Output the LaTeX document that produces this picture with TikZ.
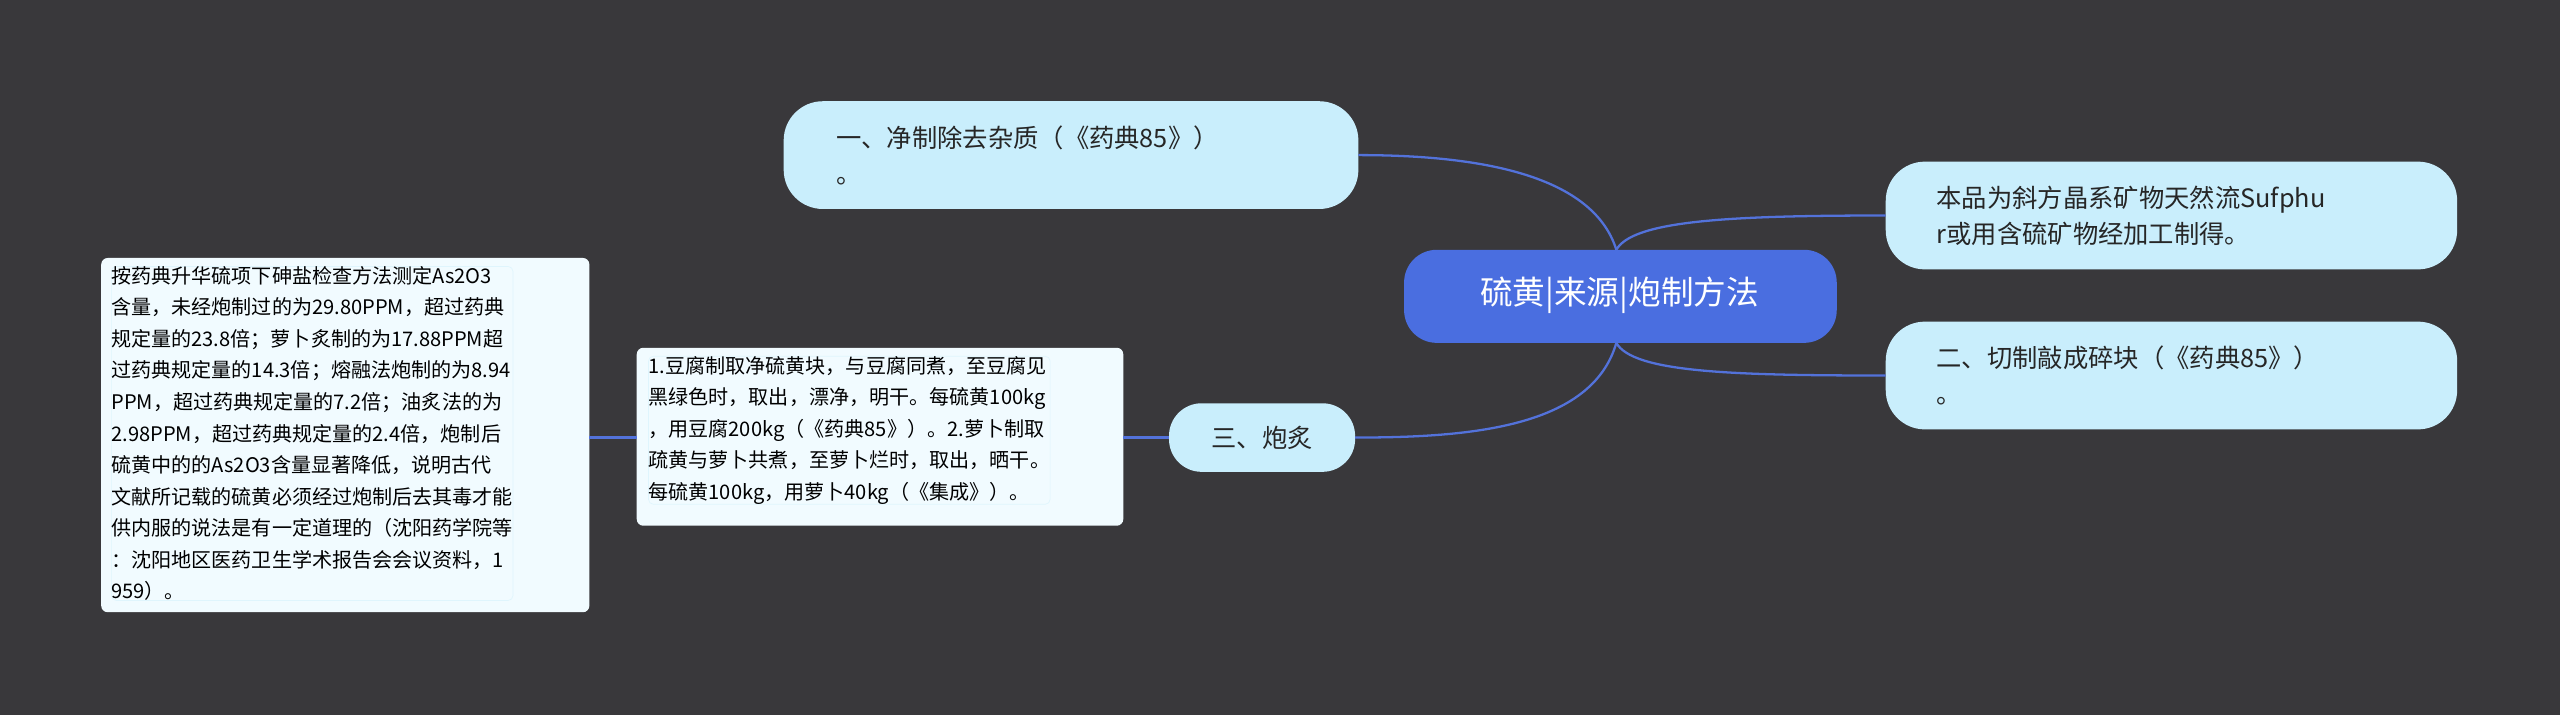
\documentclass[tikz,border=0pt]{standalone}
\usepackage{fontspec}
\setmainfont{Noto Sans CJK SC}
\begin{document}
\begin{tikzpicture}[x=1pt,y=-1pt]
\definecolor{bg}{HTML}{39383B}
\definecolor{cen}{HTML}{4A6EE0}
\definecolor{lt}{HTML}{C9EEFC}
\definecolor{dt}{HTML}{F1FBFF}
\definecolor{ln}{HTML}{5372DA}
\tikzset{
 main/.style={fill=lt,rounded corners=22pt,font=\fontsize{15.5}{22}\selectfont,align=left,text=black!85,inner sep=0pt},
 det/.style={fill=dt,draw=lt!60!white,rounded corners=3pt,font=\fontsize{12.3}{19.3}\selectfont,align=left,inner sep=0pt},
 con/.style={draw=ln,line width=1.4pt}
}
\fill[bg] (0,0) rectangle (1568,438);
\useasboundingbox (0,0) rectangle (1568,438);
\fill[cen,rounded corners=20pt] (860,153) rectangle (1125,210);
\node[text=white,font=\fontsize{20}{24}\selectfont] (c) at (992,181) {硫黄|来源|炮制方法};
\coordinate (ct) at (990,153);
\coordinate (cb) at (990,210);
\fill[lt,rounded corners=24pt] (480,62) rectangle (832,128);
\node[main,anchor=west] (a) at (512,95) {一、净制除去杂质（《药典85》）\\。};
\coordinate (ar) at (832,95);
\fill[lt,rounded corners=24pt] (1155,99) rectangle (1505,165);
\node[main,anchor=west] (r1) at (1186,132) {本品为斜方晶系矿物天然流Sufphu\\r或用含硫矿物经加工制得。};
\coordinate (r1l) at (1155,132);
\fill[lt,rounded corners=24pt] (1155,197) rectangle (1505,263);
\node[main,anchor=west] (r2) at (1186,230) {二、切制敲成碎块（《药典85》）\\。};
\coordinate (r2l) at (1155,230);
\fill[lt,rounded corners=20pt] (716,247) rectangle (830,289);
\node[main] (p) at (773,268) {三、炮炙};
\coordinate (pl) at (716,268);
\coordinate (pr) at (830,268);
\fill[dt,rounded corners=4pt] (390,213) rectangle (688,322);
\node[det,anchor=north west] (d1) at (397,218) {1.豆腐制取净硫黄块，与豆腐同煮，至豆腐见\\黑绿色时，取出，漂净，明干。每硫黄100kg\\，用豆腐200kg（《药典85》）。2.萝卜制取\\疏黄与萝卜共煮，至萝卜烂时，取出，晒干。\\每硫黄100kg，用萝卜40kg（《集成》）。};
\coordinate (d1l) at (390,268);
\coordinate (d1r) at (688,268);
\fill[dt,rounded corners=4pt] (62,158) rectangle (361,375);
\node[det,anchor=north west] (d2) at (68,163) {按药典升华硫项下砷盐检查方法测定As2O3\\含量，未经炮制过的为29.80PPM，超过药典\\规定量的23.8倍；萝卜炙制的为17.88PPM超\\过药典规定量的14.3倍；熔融法炮制的为8.94\\PPM，超过药典规定量的7.2倍；油炙法的为\\2.98PPM，超过药典规定量的2.4倍，炮制后\\硫黄中的的As2O3含量显著降低，说明古代\\文献所记载的硫黄必须经过炮制后去其毒才能\\供内服的说法是有一定道理的（沈阳药学院等\\：沈阳地区医药卫生学术报告会会议资料，1\\959）。};
\coordinate (d2r) at (361,268);
\draw[con] (ct) .. controls (975,105) and (900,95) .. (ar);
\draw[con] (ct) .. controls (1000,135) and (1060,132) .. (r1l);
\draw[con] (cb) .. controls (1000,228) and (1060,230) .. (r2l);
\draw[con] (cb) .. controls (975,262) and (900,268) .. (pr);
\draw[con] (pl) -- (d1r);
\draw[con] (d1l) -- (d2r);
\end{tikzpicture}
\end{document}
